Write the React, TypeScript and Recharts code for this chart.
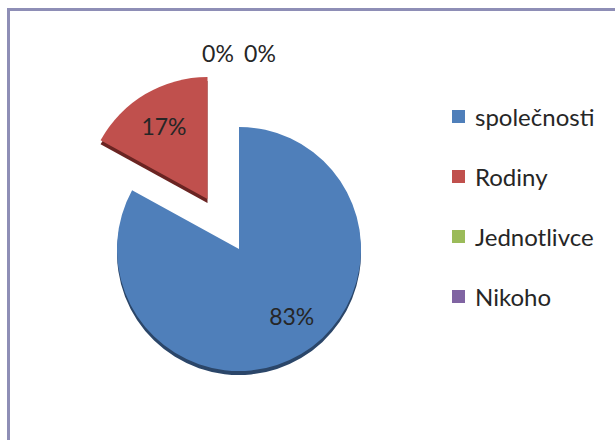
import { PieChart, Pie, Cell, Legend } from "recharts"

const categories = ["společnosti", "Rodiny", "Jednotlivce", "Nikoho"]
const values = [83, 17, 0, 0]
const colors = ["#4f7fba", "#c0504d", "#9bbb59", "#8064a2"]
const edgeColors = ["#2b4669", "#6a2422", "#5a6e33", "#4a3a5e"]

const explodedIndex = 1
const data = categories.map((name, i) => ({ name, value: values[i] }))

const RADIAN = Math.PI / 180
const CX = 239
const CY = 249
const R = 122
const EXPLODE = 58
const DEPTH = 4

// offset of the exploded slice, along its middle angle
const total = values.reduce((s, v) => s + v, 0)
const before = values.slice(0, explodedIndex).reduce((s, v) => s + v, 0)
const midExploded = 90 - (360 * (before + values[explodedIndex] / 2)) / total
const ex = CX + EXPLODE * Math.cos(midExploded * RADIAN) - 2
const ey = CY - EXPLODE * Math.sin(midExploded * RADIAN)

const font = "Lato, 'Open Sans', sans-serif"
// small angle nudge of the inside labels (best fit in the original)
const labelTilt = [7.5, 0, 0, 0]

function renderLabel(show: (i: number) => boolean) {
  return (props: any) => {
    const { cx, cy, midAngle, outerRadius, percent, index } = props
    if (!show(index)) return null
    const text = Math.round(percent * 100) + "%"
    const a = (midAngle + labelTilt[index]) * RADIAN
    let x = cx + outerRadius * 0.7 * Math.cos(a)
    let y = cy - outerRadius * 0.7 * Math.sin(a)
    if (values[index] === 0) {
      x = cx + (index === 2 ? -21 : 21)
      y = cy - outerRadius - 74
    }
    return (
      <text key={"l" + index} x={x} y={y} fill="#262626" fontSize={23} fontFamily={font}
        textAnchor="middle" dominantBaseline="central">
        {text}
      </text>
    )
  }
}

const LegendContent = () => (
  <div style={{ fontFamily: font, fontSize: 24, color: "#262626" }}>
    {categories.map((c, i) => (
      <div key={c} style={{ height: 60, display: "flex", alignItems: "center" }}>
        <span style={{ width: 13, height: 13, background: colors[i], marginRight: 10, display: "inline-block" }} />
        <span>{c}</span>
      </div>
    ))}
  </div>
)

export default function App() {
  return (
    <div style={{ position: "absolute", left: 0, top: 0, width: 615, height: 440, background: "#fff", overflow: "hidden" }}>
      <div style={{ position: "absolute", left: 7, top: 8, width: 640, height: 460, border: "3px solid #8e8eb6" }} />
      <div style={{ position: "absolute", left: 0, top: 0 }}>
        <PieChart width={615} height={440} margin={{ top: 0, right: 0, bottom: 0, left: 0 }}>
          {/* 3D edge */}
          <Pie data={data} dataKey="value" cx={CX} cy={CY + DEPTH} outerRadius={R} startAngle={90} endAngle={-270}
            stroke="none" isAnimationActive={false} legendType="none">
            {data.map((d, i) => (
              <Cell key={i} fill={i === explodedIndex ? "none" : edgeColors[i]} />
            ))}
          </Pie>
          <Pie data={data} dataKey="value" cx={ex} cy={ey + DEPTH} outerRadius={R} startAngle={90} endAngle={-270}
            stroke="none" isAnimationActive={false} legendType="none">
            {data.map((d, i) => (
              <Cell key={i} fill={i === explodedIndex ? edgeColors[i] : "none"} />
            ))}
          </Pie>
          {/* top faces */}
          <Pie data={data} dataKey="value" cx={CX} cy={CY} outerRadius={R} startAngle={90} endAngle={-270}
            stroke="none" isAnimationActive={false} labelLine={false}
            label={renderLabel((i) => i !== explodedIndex)}>
            {data.map((d, i) => (
              <Cell key={i} fill={i === explodedIndex ? "none" : colors[i]} />
            ))}
          </Pie>
          <Pie data={data} dataKey="value" cx={ex} cy={ey} outerRadius={R} startAngle={90} endAngle={-270}
            stroke="none" isAnimationActive={false} labelLine={false}
            label={renderLabel((i) => i === explodedIndex)}>
            {data.map((d, i) => (
              <Cell key={i} fill={i === explodedIndex ? colors[i] : "none"} />
            ))}
          </Pie>
          <Legend layout="vertical" content={<LegendContent />}
            wrapperStyle={{ position: "absolute", left: 452, top: 86, width: 165 }} />
        </PieChart>
      </div>
    </div>
  )
}
